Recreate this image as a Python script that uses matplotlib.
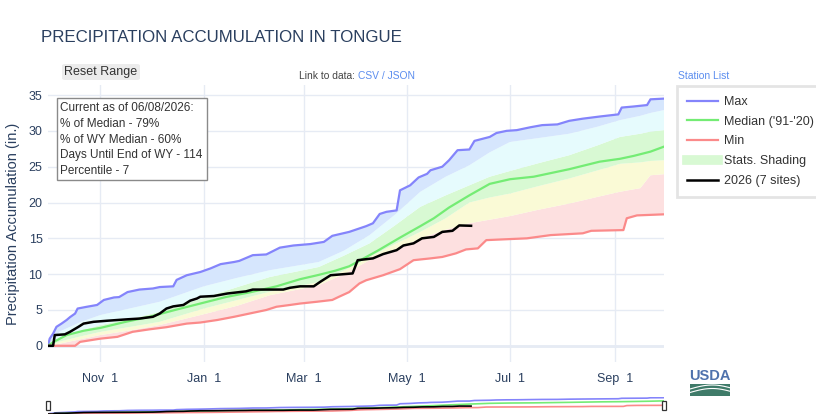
import numpy as np
import pandas as pd
import matplotlib
matplotlib.use("Agg")
import matplotlib.pyplot as plt
import matplotlib.dates as mdates
from matplotlib.patches import Rectangle, FancyBboxPatch
from matplotlib.lines import Line2D

plt.rcParams['font.family'] = ['Liberation Sans', 'DejaVu Sans']

# ------------------------------------------------------------
# donnees (jours depuis le 1er octobre)
# ------------------------------------------------------------
WY_START = pd.Timestamp("2025-10-01")
WY_END = pd.Timestamp("2026-09-30")

MAX_DAYS = [0, 1, 3, 5, 8, 11, 13, 16, 17.5, 23, 29, 33, 39, 42, 47, 54, 62, 66, 74, 76,
            82, 90, 96, 102, 110, 113, 121, 129, 137, 145, 155, 163, 168, 178, 188, 192,
            196, 200, 206, 208, 214, 219, 224, 226, 233, 237, 242, 249, 252, 261, 265,
            271, 277, 285, 292, 301, 308, 316, 326, 337, 339, 346, 354, 356, 364]
MAX_VALS = [0, 1.0, 1.7, 2.65, 3.1, 3.6, 4.0, 4.5, 5.2, 5.45, 5.7, 6.4, 6.75, 6.8, 7.5, 7.85,
            8.0, 8.2, 8.3, 9.2, 9.85, 10.3, 10.8, 11.4, 11.7, 11.85, 12.65, 12.75, 13.7, 14.0,
            14.2, 14.5, 15.35, 15.9, 16.7, 17.1, 18.4, 18.7, 18.9, 21.7, 22.4, 23.5, 24.0,
            24.5, 25.0, 25.9, 27.3, 27.4, 28.6, 29.15, 29.7, 30.0, 30.1, 30.5, 30.8, 30.9,
            31.4, 31.7, 32.0, 32.3, 33.25, 33.4, 33.6, 34.4, 34.5]

MED_DAYS = [0, 3, 11, 21, 31, 45, 60, 75, 90, 105, 120, 135, 149, 160, 170, 178, 185, 195,
            208, 220, 228, 237, 249, 261, 273, 287, 297, 308, 326, 338, 346, 356, 364]
MED_VALS = [0, 0.5, 1.5, 2.1, 2.5, 3.3, 4.05, 5.0, 5.9, 6.8, 7.5, 8.3, 9.3, 9.9, 10.5, 11.1,
            12.0, 13.3, 15.1, 16.7, 17.8, 19.3, 21.0, 22.6, 23.25, 23.6, 24.1, 24.65, 25.7,
            26.1, 26.5, 27.1, 27.8]

MIN_DAYS = [0, 16, 19, 31, 41, 50, 60, 70, 82, 90, 100, 110, 119, 129, 135, 143, 149, 159,
            168, 172, 178, 184, 188, 198, 208, 216, 226, 233, 241, 247, 254, 259, 283, 297,
            316, 321, 340, 342, 348, 364]
MIN_VALS = [0, 0, 0.55, 1.0, 1.25, 1.95, 2.3, 2.6, 3.1, 3.25, 3.6, 4.05, 4.5, 5.0, 5.45, 5.7,
            5.9, 6.15, 6.4, 6.85, 7.5, 8.7, 9.15, 9.85, 10.7, 11.95, 12.2, 12.4, 12.9, 13.45,
            13.6, 14.75, 15.0, 15.45, 15.7, 16.05, 16.15, 17.8, 18.2, 18.35]

# percentiles (bandes de couleur)
PCT_DAYS = [0, 7, 19, 31, 50, 66, 92, 112, 131, 160, 175, 190, 205, 220, 235, 249, 261, 273,
            290, 308, 325, 338, 350, 356, 364]
P90 = [0, 2.0, 3.3, 4.3, 5.3, 6.15, 8.3, 9.5, 10.55, 11.7, 13.3, 15.45, 18.3, 21.5, 23.6,
       25.2, 27.0, 28.45, 29.0, 29.6, 30.6, 31.5, 32.1, 32.5, 32.9]
P70 = [0, 1.2, 2.1, 2.9, 3.8, 4.75, 6.7, 8.2, 9.6, 11.0, 12.6, 14.3, 16.8, 19.4, 21.0, 22.4,
       23.6, 24.4, 25.5, 26.6, 28.0, 29.15, 29.6, 29.9, 30.1]
P30 = [0, 0.6, 1.3, 1.95, 2.7, 3.35, 5.2, 6.4, 7.55, 8.9, 10.5, 12.4, 14.2, 15.9, 17.8, 20.0,
       20.7, 21.25, 22.3, 23.35, 24.5, 25.4, 25.6, 25.8, 25.9]
P10 = [0, 0.3, 0.9, 1.5, 2.2, 2.9, 4.4, 5.6, 7.05, 8.45, 10.0, 11.95, 13.3, 15.0, 16.2, 17.1,
       17.6, 18.1, 19.0, 19.85, 20.8, 21.5, 22.0, 23.8, 23.95]

# annee en cours (2026, 7 sites)
CUR_DAYS = [0, 3, 4, 10, 13, 18, 21, 27, 35, 47, 54, 62, 66, 70, 74, 80, 84, 88, 90, 98, 106,
            117, 121, 139, 143, 149, 157, 161, 167, 180, 183, 192, 198, 206, 210, 216, 221,
            228, 233, 239, 243, 250]
CUR_VALS = [0, 0, 1.5, 1.6, 1.95, 2.65, 3.1, 3.35, 3.5, 3.7, 3.8, 4.05, 4.5, 5.2, 5.5, 5.7,
            6.3, 6.6, 6.85, 6.95, 7.3, 7.6, 7.85, 7.85, 8.1, 8.3, 8.3, 8.95, 9.85, 10.1, 11.95,
            12.2, 12.8, 13.35, 14.0, 14.3, 15.0, 15.2, 15.9, 16.05, 16.8, 16.75]

TICK_DATES = ["2025-11-01", "2026-01-01", "2026-03-01", "2026-05-01", "2026-07-01", "2026-09-01"]
TICK_LABELS = ["Nov  1", "Jan  1", "Mar  1", "May  1", "Jul  1", "Sep  1"]
Y_TICKS = [0, 5, 10, 15, 20, 25, 30, 35]

INFO_LINES = ["Current as of 06/08/2026:", "% of Median - 79%", "% of WY Median - 60%",
              "Days Until End of WY - 114", "Percentile - 7"]

# couleurs
C_MAX, C_MED, C_MIN = "#8484fb", "#74ec74", "#fb8a8a"
C_BLUE, C_CYAN, C_GREEN, C_YELLOW, C_RED = "#d6e6fd", "#e6fbfd", "#d8f9d3", "#fafad6", "#fde0e0"
TXT = "#2a3f5f"
GRID = "#e6ebf4"

W, H = 816, 420


def fx(x):
    return x / W


def fy(y):
    return 1 - y / H


def dnum(days):
    return mdates.date2num(WY_START + pd.to_timedelta(np.asarray(days, dtype=float), unit="D"))


def band(ax, lo_d, lo_v, hi_d, hi_v, color):
    xs = np.concatenate([dnum(lo_d), dnum(hi_d)[::-1]])
    ys = np.concatenate([lo_v, hi_v[::-1]])
    ax.fill(xs, ys, color=color, lw=0, zorder=1)


fig = plt.figure(figsize=(8.16, 4.2), dpi=100)
ax = fig.add_axes([fx(48), fy(362), (664 - 48) / W, (362 - 85) / H])

band(ax, MIN_DAYS, MIN_VALS, PCT_DAYS, P10, C_RED)
band(ax, PCT_DAYS, P10, PCT_DAYS, P30, C_YELLOW)
band(ax, PCT_DAYS, P30, PCT_DAYS, P70, C_GREEN)
band(ax, PCT_DAYS, P70, PCT_DAYS, P90, C_CYAN)
band(ax, PCT_DAYS, P90, MAX_DAYS, MAX_VALS, C_BLUE)

l_max, = ax.plot(dnum(MAX_DAYS), MAX_VALS, color=C_MAX, lw=1.6, zorder=3, label="Max")
l_med, = ax.plot(dnum(MED_DAYS), MED_VALS, color=C_MED, lw=1.6, zorder=3, label="Median ('91-'20)")
l_min, = ax.plot(dnum(MIN_DAYS), MIN_VALS, color=C_MIN, lw=1.6, zorder=3, label="Min")
l_cur, = ax.plot(dnum(CUR_DAYS), CUR_VALS, color="black", lw=1.8, zorder=4, label="2026 (7 sites)")
shade = Line2D([], [], color=C_GREEN, lw=7, label="Stats. Shading")

ax.set_xlim(dnum([0])[0], mdates.date2num(WY_END))
ax.set_ylim(-2.26, 36.4)
ax.set_yticks(Y_TICKS)
ax.set_xticks(mdates.date2num(pd.to_datetime(TICK_DATES)))
ax.set_xticklabels(TICK_LABELS)
ax.tick_params(axis="both", length=0, labelsize=9, labelcolor=TXT)
ax.tick_params(axis="x", pad=8)
ax.tick_params(axis="y", pad=4)
ax.grid(True, color=GRID, lw=1, zorder=0)
ax.axhline(0, color=GRID, lw=2, zorder=0.5)
ax.set_axisbelow(True)
for s in ax.spines.values():
    s.set_visible(False)
ax.set_ylabel("Precipitation Accumulation (in.)", fontsize=10.5, color=TXT, labelpad=6)

# range slider
ax2 = fig.add_axes([fx(48), fy(414), (664 - 48) / W, 17 / H])
ax2.plot(dnum(MAX_DAYS), MAX_VALS, color=C_MAX, lw=1.2)
ax2.plot(dnum(MED_DAYS), MED_VALS, color=C_MED, lw=1.2)
ax2.plot(dnum(MIN_DAYS), MIN_VALS, color=C_MIN, lw=1.2)
ax2.plot(dnum(CUR_DAYS), CUR_VALS, color="black", lw=1.2)
ax2.set_xlim(ax.get_xlim())
ax2.set_ylim(0, 36)
ax2.axis("off")
for hx in (45.5, 662):
    fig.patches.append(Rectangle((fx(hx), fy(410)), 4 / W, 9 / H, transform=fig.transFigure,
                                 facecolor="white", edgecolor="#333333", lw=0.9))

# titre et textes
fig.text(fx(41), fy(37), "PRECIPITATION ACCUMULATION IN TONGUE", fontsize=12.2, color=TXT,
         va="center", ha="left")

fig.patches.append(FancyBboxPatch((fx(62), fy(80)), 78 / W, 16 / H, transform=fig.transFigure,
                                  boxstyle="round,pad=0,rounding_size=0.004",
                                  facecolor="#ececec", edgecolor="none"))
fig.text(fx(101), fy(72), "Reset Range", fontsize=9, color="#333333", ha="center", va="center")

fig.text(fx(299), fy(76), "Link to data:", fontsize=7.4, color="#444444", va="center")
fig.text(fx(358), fy(76), "CSV / JSON", fontsize=7.4, color="#5b8def", va="center")
fig.text(fx(678), fy(76), "Station List", fontsize=7.5, color="#5b8def", va="center")

# encadre d'info
fig.patches.append(Rectangle((fx(57), fy(180)), 150 / W, 82 / H, transform=fig.transFigure,
                             facecolor="white", edgecolor="#8a8a8a", lw=1, zorder=5))
for i, line in enumerate(INFO_LINES):
    fig.text(fx(60), fy(108 + i * 15.8), line, fontsize=8.5, color="#333333", va="center",
             zorder=6)

# legende
leg = fig.legend(handles=[l_max, l_med, l_min, shade, l_cur], loc="upper left",
                 bbox_to_anchor=(fx(677), fy(86)), fontsize=9, frameon=True, fancybox=False,
                 handlelength=2.5, handletextpad=0.45, labelspacing=0.62, borderpad=0.8,
                 borderaxespad=0)
leg.get_frame().set_edgecolor("#dedede")
leg.get_frame().set_linewidth(2)
for t in leg.get_texts():
    t.set_color("#333333")

# logo USDA
fig.text(fx(710), fy(376), "USDA", fontsize=10.5, color="#4f72ad", ha="center", va="center",
         fontweight="bold", fontstretch="condensed")
fig.patches.append(Rectangle((fx(690), fy(396)), 40 / W, 12 / H, transform=fig.transFigure,
                             facecolor="#3f7b69", edgecolor="none"))
u = np.linspace(0, 1, 30)
for off in (0, 3.5):
    fig.lines.append(Line2D(fx(690 + 40 * u), fy(389 + off - 4 * np.sin(np.pi * u * 0.9)),
                            transform=fig.transFigure, color="white", lw=0.8))

fig.savefig("out.png", dpi=100)
